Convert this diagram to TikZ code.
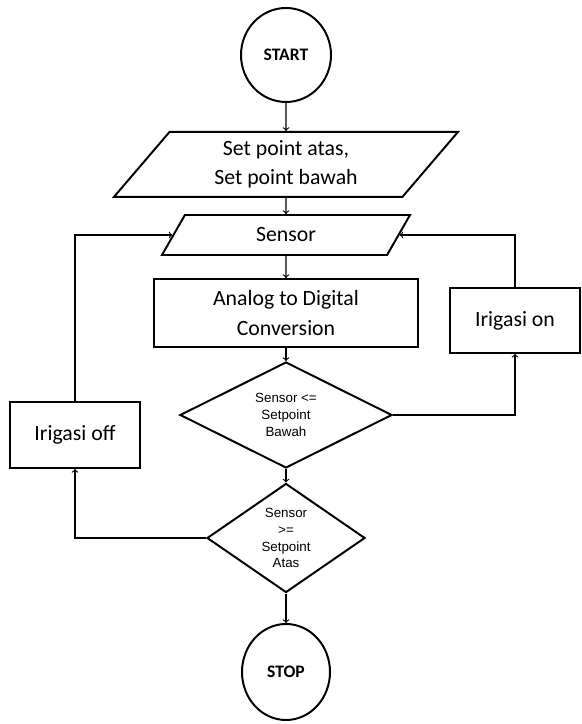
\documentclass[tikz,border=0pt]{standalone}
\usepackage{fontspec}
\setmainfont{Carlito}
\newfontfamily\decfont{Liberation Sans}
\usetikzlibrary{shapes.geometric}

\begin{document}
\begin{tikzpicture}[
	 terminal/.style = {draw, ellipse, line width = 1.4pt, inner sep = 0pt, font = \fontsize{12.5}{14}\selectfont\bfseries},
	 io/.style = {draw, trapezium, trapezium stretches body, line width = 1.4pt, inner sep = 2pt, align = center, font = \fontsize{15.5}{21}\selectfont},
	 process/.style = {draw, rectangle, line width = 1.4pt, align = center, font = \fontsize{15.5}{21}\selectfont},
	 decision/.style = {draw, diamond, line width = 1.4pt, inner sep = 0pt, align = center, font = \decfont\fontsize{9.5}{12}\selectfont},
	 flow/.style = {->, line width = 0.8pt}
	 ]
	 \useasboundingbox (0, 0) rectangle (14.55, 18.1);
	 
	 \node[terminal, minimum width = 2.25 cm, minimum height = 2.35 cm] (start) at (7.15, 16.725) {START};
	 
	 \node[io, trapezium left angle = 44, trapezium right angle = 136, minimum width = 8.6 cm, minimum height = 1.625 cm] (setpoint) at (7.15, 13.99) {Set point atas,\\ Set point bawah};
	 
	 \node[io, trapezium left angle = 41, trapezium right angle = 139, minimum width = 6.2 cm, minimum height = 1 cm] (sensor) at (7.15, 12.225) {Sensor};
	 
	 \node[process, minimum width = 6.6 cm, minimum height = 1.7 cm] (adc) at (7.15, 10.275) {Analog to Digital\\ Conversion};
	 
	 \node[process, minimum width = 3.25 cm, minimum height = 1.625 cm] (irigasion) at (12.875, 10.09) {Irigasi on};
	 
	 \node[process, minimum width = 3.25 cm, minimum height = 1.65 cm] (irigasioff) at (1.875, 7.225) {Irigasi off};
	 
	 \node[decision, minimum width = 5.3 cm, minimum height = 2.65 cm] (cekbawah) at (7.15, 7.725) {Sensor <=\\ Setpoint\\ Bawah};
	 
	 \node[decision, minimum width = 3.95 cm, minimum height = 2.625 cm] (cekatas) at (7.15, 4.65) {Sensor\\ >=\\ Setpoint\\ Atas};
	 
	 \node[terminal, minimum width = 2.2 cm, minimum height = 2.4 cm] (stop) at (7.15, 1.3) {STOP};
	 
	 \draw[flow] (start) -- (setpoint);
	 \draw[flow] (setpoint) -- (sensor);
	 \draw[flow] (sensor) -- (adc);
	 \draw[flow] (adc) -- (cekbawah);
	 \draw[flow] (cekbawah) -- (cekatas);
	 \draw[flow] (cekatas) -- (stop);
	 
	 \draw[flow] (cekbawah.east) -| (irigasion.south);
	 \draw[flow] (irigasion.north) |- (sensor.east);
	 \draw[flow] (cekatas.west) -| (irigasioff.south);
	 \draw[flow] (irigasioff.north) |- (sensor.west);
\end{tikzpicture}
\end{document}
